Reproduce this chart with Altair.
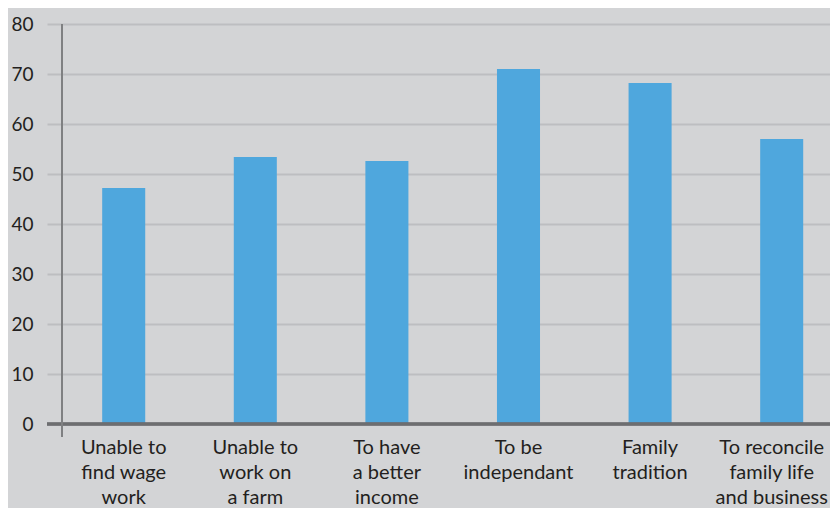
import altair as alt
import pandas as pd

categories = [
    "Unable to find wage work",
    "Unable to work on a farm",
    "To have a better income",
    "To be independant",
    "Family tradition",
    "To reconcile family life and business",
]
label_lines = [
    "Unable to|find wage|work",
    "Unable to|work on|a farm",
    "To have|a better|income",
    "To be|independant",
    "Family|tradition",
    "To reconcile|family life|and business",
]
values = [47.2, 53.4, 52.6, 71.0, 68.2, 57.0]
y_ticks = [0, 10, 20, 30, 40, 50, 60, 70, 80]

df = pd.DataFrame({"cat": label_lines, "value": values})

BG = "#d3d4d6"
GRID = "#bdbec1"
AXIS = "#7f8082"
TXT = "#231f20"
FONT = "Lato"
W = 768

x = alt.X(
    "cat:N",
    sort=label_lines,
    title=None,
    scale=alt.Scale(paddingInner=0.673, paddingOuter=0.2545, align=0.6),
    axis=alt.Axis(
        labelExpr="split(datum.label, '|')",
        labelAngle=0,
        labelFontSize=20,
        labelFont=FONT,
        labelColor=TXT,
        labelLineHeight=25,
        labelPadding=13,
        labelOffset={
            "condition": {"test": f"datum.value == '{label_lines[-1]}'", "value": -10},
            "value": 0,
        },
        ticks=False,
        domain=False,
        grid=False,
        labelBaseline="top",
    ),
)
y = alt.Y(
    "value:Q",
    title=None,
    scale=alt.Scale(domain=[0, 80], nice=False),
    axis=alt.Axis(
        values=y_ticks,
        grid=True,
        gridColor=GRID,
        gridWidth=2,
        gridOpacity=1,
        ticks=True,
        tickSize=15,
        tickColor=GRID,
        tickWidth=2,
        domain=False,
        labelFontSize=19,
        labelFont=FONT,
        labelColor=TXT,
        labelPadding=14,
    ),
)

bars = alt.Chart(df).mark_bar(color="#4fa7dd").encode(x=x, y=y)

yaxis = alt.Chart(df).mark_rule(color=AXIS, strokeWidth=2).encode(
    x=alt.value(0), y=alt.value(0), y2=alt.value(413)
)
base = alt.Chart(df).mark_rule(color="#6d6e70", strokeWidth=2.5).encode(
    x=alt.value(-15), x2=alt.value(W), y=alt.datum(0)
)

chart = (
    alt.layer(bars, base, yaxis)
    .properties(
        width=W,
        height=400,
        background=BG,
        padding={"left": 54, "top": 16, "right": 0, "bottom": 84},
        autosize=alt.AutoSizeParams(type="none"),
    )
    .configure_view(stroke=None)
)

chart.save("out.html", embed_options={"renderer": "svg", "actions": False})
